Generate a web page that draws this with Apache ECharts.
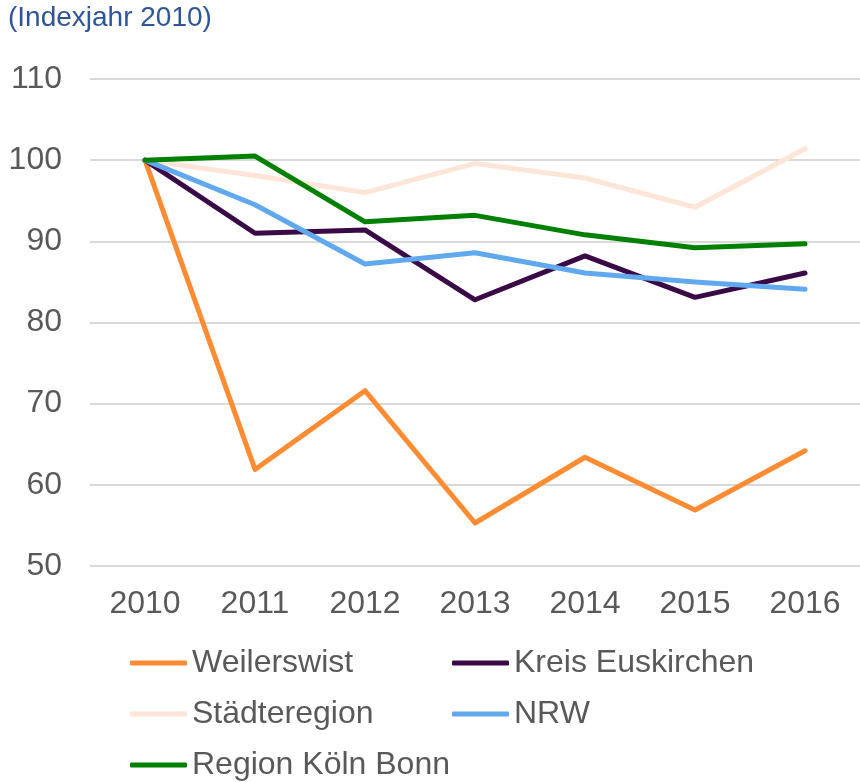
<!DOCTYPE html>
<html><head><meta charset="utf-8">
<script src="https://cdn.jsdelivr.net/npm/echarts@6/dist/echarts.min.js"></script>
<style>html,body{margin:0;padding:0;background:#fff}#c{width:860px;height:782px}</style>
</head><body><div id="c"></div>
<script>
const years = ['2010','2011','2012','2013','2014','2015','2016'];
const weilerswist = [100, 61.9, 71.6, 55.3, 63.4, 56.9, 64.2];
const kreisEuskirchen = [100, 91.0, 91.4, 82.8, 88.2, 83.1, 86.1];
const staedteregion = [100, 98.1, 96.0, 99.6, 97.8, 94.2, 101.4];
const nrw = [100, 94.5, 87.2, 88.6, 86.1, 85.0, 84.1];
const koelnBonn = [100, 100.5, 92.4, 93.2, 90.8, 89.2, 89.7];
const yTicks = {min: 50, max: 110, interval: 10};

const chart = echarts.init(document.getElementById('c'));
const font = 'Liberation Sans, Arial, sans-serif';
const mk = (name, data, color) => ({
  name, type: 'line', data, symbol: 'none', smooth: false,
  lineStyle: {color, width: 5, cap: 'round', join: 'round'},
  itemStyle: {color}
});
const leg = (name, left, top) => ({
  data: [name], left, top, padding: 0, itemWidth: 57, itemHeight: 5,
  icon: 'roundRect',
  textStyle: {fontFamily: font, fontSize: 32, lineHeight: 32, color: '#595959'}
});
chart.setOption({
  animation: false,
  title: {text: '(Indexjahr 2010)', left: 8, top: 4, padding: 0,
    textStyle: {fontFamily: font, fontSize: 28, fontWeight: 'normal', color: '#2F5597'}},
  grid: {left: 90, right: -7, top: 79, bottom: 216, containLabel: false},
  xAxis: {type: 'category', data: years, boundaryGap: true,
    axisLine: {show: false}, axisTick: {show: false},
    axisLabel: {fontFamily: font, fontSize: 32, color: '#595959', margin: 22}},
  yAxis: {type: 'value', min: yTicks.min, max: yTicks.max, interval: yTicks.interval,
    axisLine: {show: false}, axisTick: {show: false},
    splitLine: {lineStyle: {color: '#D9D9D9', width: 2}},
    axisLabel: {fontFamily: font, fontSize: 32, color: '#595959', margin: 28}},
  legend: [
    leg('Weilerswist', 130, 647),
    leg('Kreis Euskirchen', 452, 647),
    leg('Städteregion', 130, 698),
    leg('NRW', 452, 698),
    leg('Region Köln Bonn', 130, 749)
  ],
  series: [
    mk('Weilerswist', weilerswist, '#FF8B33'),
    mk('Kreis Euskirchen', kreisEuskirchen, '#3A0A47'),
    mk('Städteregion', staedteregion, '#FDE6D8'),
    mk('NRW', nrw, '#61A9EE'),
    mk('Region Köln Bonn', koelnBonn, '#008000')
  ]
});
</script></body></html>
